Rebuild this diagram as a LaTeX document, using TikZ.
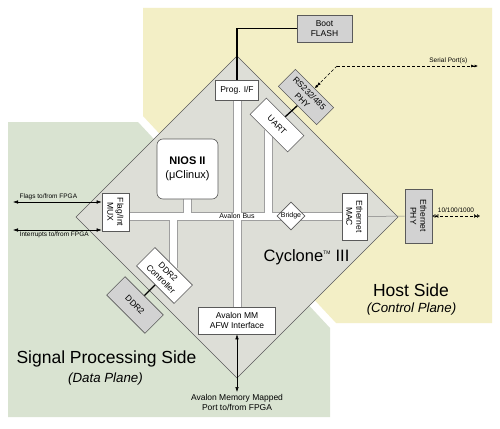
\documentclass[tikz,border=0pt]{standalone}
\usepackage{fontspec}
\setmainfont{Liberation Sans}
\usetikzlibrary{arrows.meta,shapes.geometric}
\pgfdeclarelayer{bg}
\pgfsetlayers{bg,main}
\definecolor{hostbg}{RGB}{243,239,198}
\definecolor{sigbg}{RGB}{217,227,209}
\definecolor{chipbg}{RGB}{221,222,215}
\definecolor{extbg}{RGB}{210,210,210}
\definecolor{edge}{RGB}{90,90,90}
\tikzset{
  fpga/.tip={Latex[length=5pt,width=3.5pt]},
  ser/.tip={Latex[length=3.5pt,width=3pt] Latex[length=3.5pt,width=3pt]},
  eth/.tip={Triangle[open,length=3pt,width=3.5pt] Triangle[open,length=3pt,width=3.5pt]},
}
\begin{document}
\begin{tikzpicture}[x=1pt,y=-1pt,
    blk/.style={draw=edge,line width=0.6pt,fill=white,align=center,inner sep=1pt,font=\fontsize{8.5}{10}\selectfont},
    extblk/.style={blk,fill=extbg},
    lbl/.style={inner sep=0.5pt,align=center,font=\fontsize{6.5}{8}\selectfont},
    big/.style={inner sep=0pt,font=\fontsize{17.5}{20}\selectfont},
    sub/.style={inner sep=0pt,font=\fontsize{13.3}{16}\selectfont\itshape},
    busout/.style={draw=gray!75,line width=9pt},
    busin/.style={draw=white,line width=7pt},
    dsh/.style={dash pattern=on 3pt off 2pt}]
        \useasboundingbox (0,0) rectangle (500,428);
        \node (boot) [extblk,minimum width=55,minimum height=27] at (324.5,28.5) {Boot\\FLASH};
        \node (prog) [blk,minimum width=43,minimum height=20] at (237,90) {Prog. I/F};
        \node (phy) [extblk,rotate=-45,minimum width=54,minimum height=24] at (306,97) {RS232/485\\PHY};
        \node (uart) [blk,rotate=-45,minimum width=53,minimum height=23] at (277,125) {UART};
        \node (nios) [blk,rounded corners=6pt,minimum width=61,minimum height=60,font=\fontsize{11}{14}\selectfont] at (187.5,169) {\textbf{NIOS II}\\(μClinux)};
        \node (mux) [blk,rotate=-90,minimum width=38,minimum height=27] at (115.5,212) {Flag/Int\\MUX};
        \node (bri) [blk,shape=diamond,aspect=1,inner sep=0pt,minimum size=28,font=\fontsize{7}{8}\selectfont] at (291,216) {Bridge};
        \node (mac) [blk,rotate=-90,minimum width=47,minimum height=25] at (354.5,216.5) {Ethernet\\MAC};
        \node (ephy) [extblk,rotate=-90,minimum width=54,minimum height=27] at (418.5,216) {Ethernet\\PHY};
        \node (ctl) [blk,rotate=-45,minimum width=53,minimum height=26] at (164.5,275.5) {DDR2\\Controller};
        \node (ddr) [extblk,rotate=-45,minimum width=54,minimum height=26] at (135,305) {DDR2};
        \node (mm) [blk,minimum width=77,minimum height=27] at (237,320.5) {Avalon MM\\AFW Interface};
        \coordinate (ut) at (268.5,130);
        \coordinate (ct) at (173.5,268);
        \coordinate (fl) at (13,202);
        \coordinate (ir) at (13,230);
        \coordinate (sp) at (337,66);
        \coordinate (spe) at (478,66);
        \coordinate (ee) at (480,216);
        \coordinate (mmp) at (237,392);
        \begin{pgfonlayer}{bg}
        \fill[white] (0,0) rectangle (500,428);
        \fill[hostbg] (143,8) -- (492,8) -- (492,323) -- (336,323) -- (143,116) -- cycle;
        \fill[sigbg] (8,122) -- (138,122) -- (330,328) -- (330,417) -- (8,417) -- cycle;
        \draw[edge,line width=0.5pt,fill=chipbg] (237,56) -- (398,217) -- (237,378) -- (76,217) -- cycle;
        \foreach \s in {busout,busin} {
          \draw[\s] (mux.center |- bri) -- (mac.center |- bri);
          \draw[\s] (prog.center) -- (mm.center);
          \draw[\s] (nios.center) -- (nios.center |- bri);
          \draw[\s] (ut) -- (ut |- bri);
          \draw[\s] (ct) -- (ct |- bri);
        }
        \end{pgfonlayer}
        \draw[line width=1.3pt] (boot.west) -| (prog.north);
        \draw[line width=1.3pt] (phy.south) -- (uart.north);
        \draw[line width=1.3pt] (ctl.south) -- (ddr.north);
        \draw[fpga-fpga,line width=0.5pt] (fl) -- (fl -| mux.south);
        \draw[fpga-fpga,line width=0.5pt] (ir) -- (ir -| mux.south);
        \draw[dsh,-ser,line width=0.6pt] (sp) -- (spe);
        \draw[dsh,-ser,line width=0.6pt] (sp) -- (phy.north);
        \draw[gray,line width=0.5pt] (mac.north) -- (ephy.south);
        \draw[dsh,eth-eth,line width=0.5pt] (ephy.north) -- (ee);
        \draw[fpga-fpga,line width=0.5pt] (mm.south) -- (mmp);
        \node (flt) [lbl,anchor=south west] at (19,201) {Flags to/from FPGA};
        \node (irt) [lbl,anchor=north west] at (19,231.5) {Interrupts to/from FPGA};
        \node (spt) [lbl,anchor=south east] at (468,64.5) {Serial Port(s)};
        \node (eet) [lbl,anchor=south] at (456,213.5) {10/100/1000};
        \node (mmt) [lbl,anchor=north,font=\fontsize{8.5}{10.5}\selectfont] at (237,393.5) {Avalon Memory Mapped\\Port to/from FPGA};
        \node (avb) [lbl,font=\fontsize{7}{8}\selectfont] at (237,216) {Avalon Bus};
        \node (cyc) [big,font=\fontsize{16.5}{20}\selectfont] at (306.5,257) {Cyclone\textsuperscript{\fontsize{5}{5}\selectfont TM} III};
        \node (hst) [big] at (411,290) {Host Side};
        \node (hsb) [sub] at (411.5,309.5) {(Control Plane)};
        \node (sig) [big] at (106.5,359) {Signal Processing Side};
        \node (sgb) [sub] at (105.5,379.5) {(Data Plane)};
        \end{tikzpicture}
\end{document}
